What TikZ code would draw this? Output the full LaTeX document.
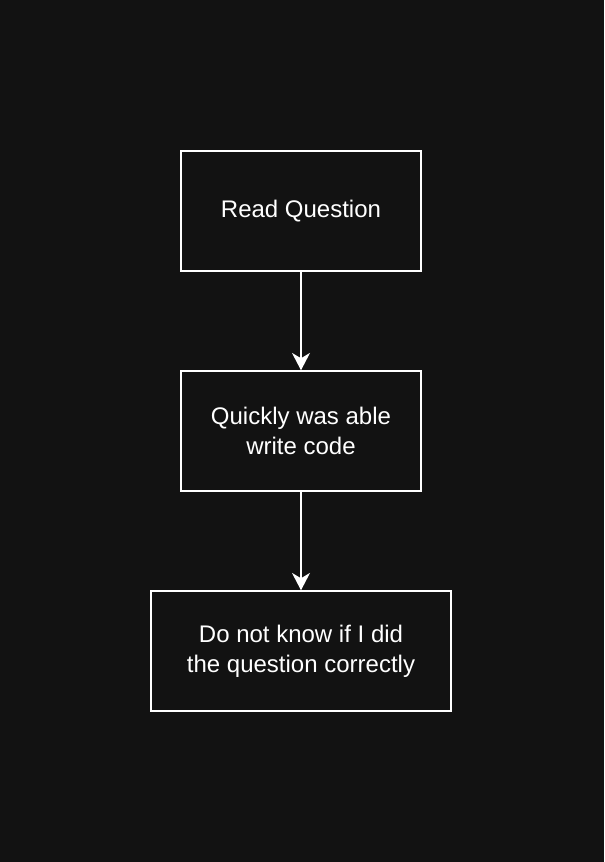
\documentclass[tikz,border=0pt]{standalone}
\usepackage{fontspec}
\setmainfont{Liberation Sans}
\usetikzlibrary{positioning,arrows.meta}
\definecolor{bgdark}{HTML}{121212}
\tikzset{
  stepbox/.style={draw=white,line width=1.5pt*0.75,text=white,minimum height=120*0.75pt,
    align=center,font=\fontsize{18}{22.5}\selectfont},
  flow/.style={draw=white,line width=1.5pt*0.75,-{Stealth[length=13pt,width=13.5pt,inset=4pt]}}
}
\begin{document}
\begin{tikzpicture}[x=0.75pt,y=-0.75pt]
  \fill[bgdark] (0,0) rectangle (604,862);
  \useasboundingbox (0,0) rectangle (604,862);
  \node[stepbox,minimum width=240*0.75pt] (read) at (301,211) {Read Question};
  \node[stepbox,minimum width=240*0.75pt] (code) at (301,431) {Quickly was able\\write code};
  \node[stepbox,minimum width=300*0.75pt] (unsure) at (301,651) {Do not know if I did\\the question correctly};
  \draw[flow] (read) -- (code);
  \draw[flow] (code) -- (unsure);
\end{tikzpicture}
\end{document}
